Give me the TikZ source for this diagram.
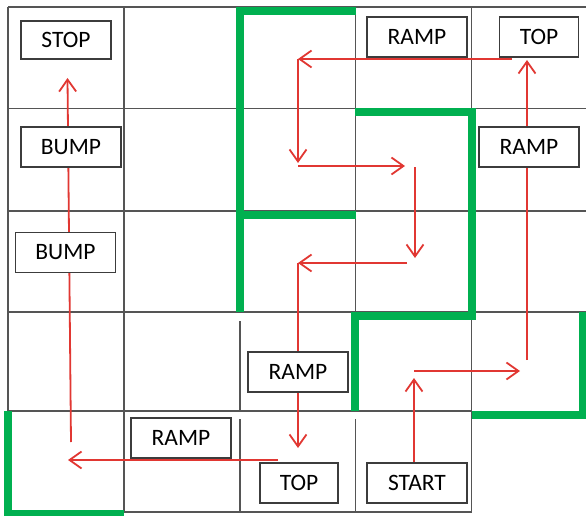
\documentclass[tikz,border=0pt]{standalone}
\usepackage{fontspec}
\setmainfont{Carlito}
\usetikzlibrary{arrows.meta,backgrounds}
\definecolor{gridgray}{RGB}{85,85,85}
\definecolor{boxgray}{RGB}{60,60,60}
\definecolor{pathred}{RGB}{225,55,50}
\definecolor{wallgreen}{RGB}{0,176,80}
\begin{document}
\begin{tikzpicture}[x=1pt,y=-1pt,
  gridline/.style={draw=gridgray,line width=1.2pt},
  wall/.style={draw=wallgreen,line width=8pt,line cap=butt,line join=miter},
  label/.style={draw=boxgray,line width=1.2pt,fill=white,inner sep=0pt,
    minimum height=40pt,font=\fontsize{23.5}{26}\selectfont},
  route/.style={draw=pathred,line width=1.8pt,-{Straight Barb[length=12pt,width=17pt,line width=1.8pt]}}]
\useasboundingbox (0,0) rectangle (586,516);

% labels
\node[label,minimum width=90pt,minimum height=38pt] (stop) at (66,40) {STOP};
\node[label,minimum width=100pt] (bump1) at (71,147) {BUMP};
\node[label,minimum width=100pt] (bump2) at (65.5,252.5) {BUMP};
\node[label,minimum width=100pt] (rampt) at (417,37) {RAMP};
\node[label,minimum width=79pt] (topr) at (539,37) {TOP};
\node[label,minimum width=100pt] (rampr) at (529,147) {RAMP};
\node[label,minimum width=100pt] (rampm) at (298,372) {RAMP};
\node[label,minimum width=100pt] (rampb) at (181,438) {RAMP};
\node[label,minimum width=78pt] (topb) at (299,483) {TOP};
\node[label,minimum width=100pt] (start) at (417,483) {START};

% route coordinates
\coordinate (p1) at (414,378);
\coordinate (p2a) at (414,371);
\coordinate (p2b) at (520,371);
\coordinate (p3a) at (527,360);
\coordinate (p3b) at (527,60);
\coordinate (p4a) at (512,59);
\coordinate (p4b) at (298,59);
\coordinate (p5b) at (298,163);
\coordinate (p6a) at (298,166);
\coordinate (p6b) at (405,166);
\coordinate (p7a) at (415,167);
\coordinate (p7b) at (415,258);
\coordinate (p8a) at (407,263);
\coordinate (p8b) at (298,263);
\coordinate (p9b) at (298,448);
\coordinate (p10a) at (278,460);
\coordinate (p10b) at (68,460);
\coordinate (p11a) at (71,442);
\coordinate (p11b) at (67.5,78);

\begin{pgfonlayer}{background}
  % grid
  \draw[gridline] (8,7) -- (586,7);
  \draw[gridline] (8,108.5) -- (586,108.5);
  \draw[gridline] (8,211) -- (586,211);
  \draw[gridline] (8,312) -- (586,312);
  \draw[gridline] (8,411) -- (472,411);
  \draw[gridline] (124,512) -- (472,512);
  \draw[gridline] (8,7) -- (8,411);
  \draw[gridline] (124,7) -- (124,512);
  \draw[gridline] (240,321) -- (240,411);
  \draw[gridline] (240,419) -- (240,512);
  \draw[gridline] (355.5,7) -- (355.5,312);
  \draw[gridline] (355.5,419) -- (355.5,512);
  \draw[gridline] (471.5,7) -- (471.5,108);
  \draw[gridline] (471.5,318) -- (471.5,512);
  % route
  \draw[route] (start.north -| p1) -- (p1);
  \draw[route] (p2a) -- (p2b);
  \draw[route] (p3a) -- (p3b);
  \draw[route] (p4a) -- (p4b);
  \draw[route] (p4b) -- (p5b);
  \draw[route] (p6a) -- (p6b);
  \draw[route] (p7a) -- (p7b);
  \draw[route] (p8a) -- (p8b);
  \draw[route] (p8b) -- (p9b);
  \draw[route] (p10a) -- (p10b);
  \draw[route] (p11a) -- (p11b);
\end{pgfonlayer}

% walls
\draw[wall] (356,11) -- (240,11) -- (240,312);
\draw[wall] (240,214.5) -- (356,214.5);
\draw[wall] (355,112.5) -- (471.5,112.5) -- (471.5,315.5) -- (355,315.5) -- (355,411);
\draw[wall] (471.5,415) -- (583,415) -- (583,312);
\draw[wall] (8,411) -- (8,514) -- (124,514);
\end{tikzpicture}
\end{document}
